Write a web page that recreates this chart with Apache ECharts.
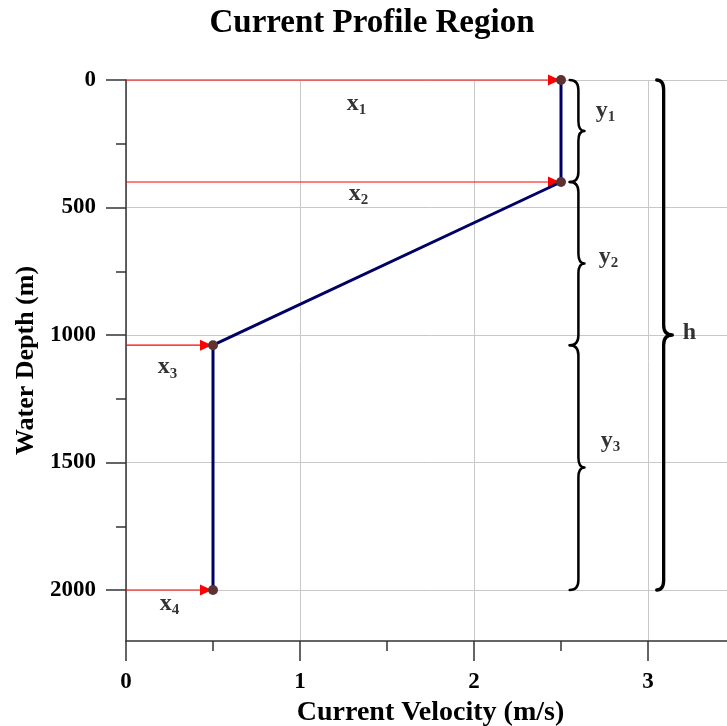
<!DOCTYPE html>
<html>
<head>
<meta charset="utf-8">
<script src="https://cdn.jsdelivr.net/npm/echarts@6/dist/echarts.min.js"></script>
<style>
  html, body { margin: 0; padding: 0; background: #ffffff; overflow: hidden; }
  #chart { width: 735px; height: 726px; }
</style>
</head>
<body>
<div id="chart"></div>
<script>
// Velocity profile: depth (m) of each profile break and the current velocity (m/s) there
const depthLevels = [0, 400, 1040, 2000];
const velocities = [2.5, 2.5, 0.5, 0.5];

// Axis tick values
const xTickValues = [0, 1, 2, 3];
const xMinorTickValues = [0.5, 1.5, 2.5];
const yTickValues = [0, 500, 1000, 1500, 2000];
const yMinorTickValues = [250, 750, 1250, 1750];

// Annotation names
const arrowSubscripts = ['1', '2', '3', '4'];
const layerSubscripts = ['1', '2', '3'];
const totalName = 'h';

const SERIF = 'Liberation Serif';

// Brace columns (velocity coordinates of the curl ends, spine and tip)
const braceColumns = [
  { end: 2.55, spine: 2.60, tip: 2.635, width: 2.5 },
  { end: 3.05, spine: 3.09, tip: 3.14, width: 3.3 }
];

// Brace spans: each layer between consecutive break depths, plus the whole column
const braceData = [];
for (let i = 0; i < depthLevels.length - 1; i++) {
  braceData.push([0, depthLevels[i], depthLevels[i + 1]]);
}
braceData.push([1, depthLevels[0], depthLevels[depthLevels.length - 1]]);

function bracePath(api, col, y0, y1) {
  const c = braceColumns[col];
  const ym = (y0 + y1) / 2;
  const Xe = api.coord([c.end, y0])[0];
  const Xs = api.coord([c.spine, y0])[0];
  const Xt = api.coord([c.tip, y0])[0];
  const Y0 = api.coord([c.spine, y0])[1];
  const Y1 = api.coord([c.spine, y1])[1];
  const Ym = api.coord([c.spine, ym])[1];
  const r = Math.min(10, (Y1 - Y0) / 6);
  return [
    'M', Xe, Y0,
    'Q', Xs, Y0, Xs, Y0 + r,
    'L', Xs, Ym - r,
    'Q', Xs, Ym, Xt, Ym,
    'Q', Xs, Ym, Xs, Ym + r,
    'L', Xs, Y1 - r,
    'Q', Xs, Y1, Xe, Y1
  ].join(' ');
}

// Label offsets (px) relative to their anchors
const arrowLabelOffsets = [[13, 24], [15, 12], [-2, 22], [0, 14]];
const layerLabelOffsets = [[21, -20], [24, -7], [26, -27]];
const totalLabelOffset = [17, -2];

const richText = {
  b: { fontFamily: SERIF, fontWeight: 'bold', fontSize: 24, color: '#000', verticalAlign: 'middle' },
  s: { fontFamily: SERIF, fontWeight: 'bold', fontSize: 15, color: '#000', padding: [13, 0, 0, 0] }
};

const labelItems = [];
for (let i = 0; i < depthLevels.length; i++) {
  labelItems.push({
    value: [velocities[i] / 2, depthLevels[i]],
    label: { formatter: '{b|x}{s|' + arrowSubscripts[i] + '}', offset: arrowLabelOffsets[i] }
  });
}
for (let i = 0; i < depthLevels.length - 1; i++) {
  labelItems.push({
    value: [braceColumns[0].tip, (depthLevels[i] + depthLevels[i + 1]) / 2],
    label: { formatter: '{b|y}{s|' + layerSubscripts[i] + '}', offset: layerLabelOffsets[i] }
  });
}
labelItems.push({
  value: [braceColumns[1].tip, (depthLevels[0] + depthLevels[depthLevels.length - 1]) / 2],
  label: { formatter: '{b|' + totalName + '}', offset: totalLabelOffset }
});

const axisLineStyle = { color: '#333', width: 1.5 };
const gridLineStyle = { color: '#c8c8c8', width: 1 };
const tickLabelStyle = { fontFamily: SERIF, fontWeight: 'bold', fontSize: 23, color: '#000' };
const plainNumber = v => String(v);

const chart = echarts.init(document.getElementById('chart'), null, { renderer: 'canvas' });

chart.setOption({
  animation: false,
  backgroundColor: '#ffffff',
  title: {
    text: 'Current Profile Region',
    left: 367,
    top: 2,
    textAlign: 'center',
    textStyle: { fontFamily: SERIF, fontWeight: 'bold', fontSize: 33, color: '#000' }
  },
  grid: { left: 126, top: 80, width: 609, height: 561, containLabel: false, outerBoundsMode: 'none' },
  xAxis: [
    {
      type: 'value',
      min: 0, max: 3.5, interval: 0.5,
      position: 'bottom',
      name: 'Current Velocity (m/s)',
      nameLocation: 'middle',
      nameGap: 54,
      nameTextStyle: { fontFamily: SERIF, fontWeight: 'bold', fontSize: 28, color: '#000' },
      axisLine: { show: true, onZero: false, lineStyle: axisLineStyle },
      axisTick: { show: true, length: 20, customValues: xTickValues, lineStyle: axisLineStyle },
      axisLabel: Object.assign({ margin: 30, customValues: xTickValues, formatter: plainNumber }, tickLabelStyle),
      splitLine: { show: true, lineStyle: gridLineStyle }
    },
    {
      type: 'value',
      min: 0, max: 3.5, interval: 0.5,
      position: 'bottom',
      axisLine: { show: false, onZero: false },
      axisTick: { show: true, length: 10, customValues: xMinorTickValues, lineStyle: axisLineStyle },
      axisLabel: { show: false },
      splitLine: { show: false }
    }
  ],
  yAxis: [
    {
      type: 'value',
      inverse: true,
      min: 0, max: 2200, interval: 250,
      position: 'left',
      name: 'Water Depth (m)',
      nameLocation: 'middle',
      nameGap: 80,
      nameTextStyle: { fontFamily: SERIF, fontWeight: 'bold', fontSize: 26, color: '#000' },
      axisLine: { show: true, onZero: false, lineStyle: axisLineStyle },
      axisTick: { show: true, length: 20, customValues: yTickValues, lineStyle: axisLineStyle },
      axisLabel: Object.assign({ margin: 30, customValues: yTickValues, formatter: plainNumber }, tickLabelStyle),
      splitLine: { show: true, lineStyle: gridLineStyle }
    },
    {
      type: 'value',
      inverse: true,
      min: 0, max: 2200, interval: 250,
      position: 'left',
      axisLine: { show: false, onZero: false },
      axisTick: { show: true, length: 10, customValues: yMinorTickValues, lineStyle: axisLineStyle },
      axisLabel: { show: false },
      splitLine: { show: false }
    }
  ],
  series: [
    {
      // red arrows from the depth axis to each profile break
      type: 'custom',
      z: 1,
      silent: true,
      data: depthLevels.map((d, i) => [velocities[i], d]),
      renderItem: function (params, api) {
        const d = api.value(1);
        const p0 = api.coord([0, d]);
        const p1 = api.coord([api.value(0), d]);
        const tipX = p1[0] - 1;
        const baseX = tipX - 12;
        const y = p0[1];
        return {
          type: 'group',
          children: [
            {
              type: 'line',
              shape: { x1: p0[0], y1: y, x2: baseX + 1, y2: y },
              style: { stroke: '#ff0000', lineWidth: 1.2 }
            },
            {
              type: 'polygon',
              shape: { points: [[tipX, y], [baseX, y - 5.5], [baseX, y + 5.5]] },
              style: { fill: '#ff0000', stroke: 'none' }
            }
          ]
        };
      }
    },
    {
      // velocity profile
      type: 'line',
      z: 3,
      data: depthLevels.map((d, i) => [velocities[i], d]),
      lineStyle: { color: '#000066', width: 3 },
      symbol: 'circle',
      symbolSize: 10,
      itemStyle: { color: '#5e3232' },
      showAllSymbol: true
    },
    {
      // braces marking each layer and the total depth
      type: 'custom',
      z: 4,
      silent: true,
      data: braceData,
      renderItem: function (params, api) {
        const col = api.value(0);
        return {
          type: 'path',
          shape: { pathData: bracePath(api, col, api.value(1), api.value(2)) },
          style: { fill: 'none', stroke: '#000', lineWidth: braceColumns[col].width, lineCap: 'round', lineJoin: 'round' }
        };
      }
    },
    {
      // annotation text
      type: 'scatter',
      z: 5,
      silent: true,
      symbolSize: 0,
      data: labelItems,
      label: {
        show: true,
        position: 'inside',
        align: 'center',
        verticalAlign: 'middle',
        rich: richText
      }
    }
  ]
});
</script>
</body>
</html>
